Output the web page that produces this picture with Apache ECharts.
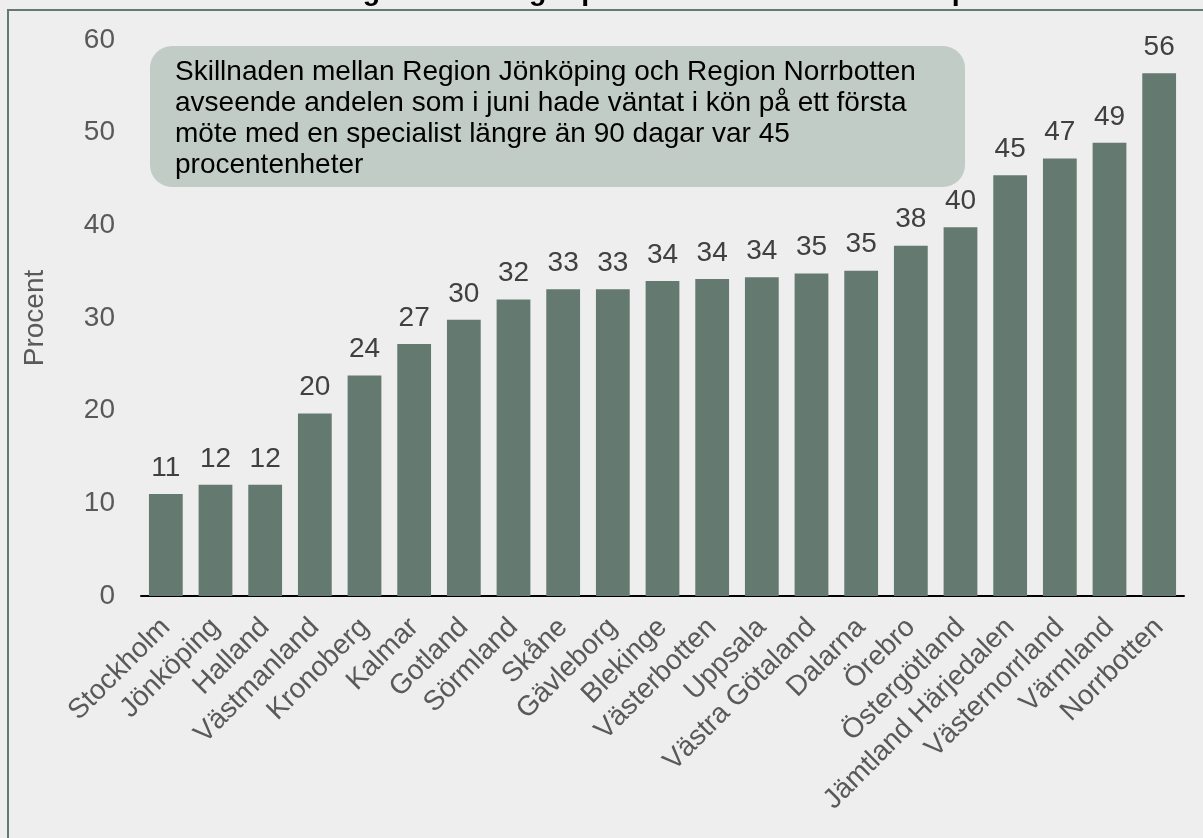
<!DOCTYPE html>
<html>
<head>
<meta charset="utf-8">
<script src="https://cdn.jsdelivr.net/npm/echarts@6/dist/echarts.min.js"></script>
<style>
    html, body { margin: 0; padding: 0; background: #eeeeee; }
    #chart { width: 1203px; height: 838px; }
</style>
</head>
<body>
<div id="chart"></div>
<script>
    // regioner, sorterade efter andel
    let regions = ['Stockholm', 'Jönköping', 'Halland', 'Västmanland', 'Kronoberg', 'Kalmar', 'Gotland',
        'Sörmland', 'Skåne', 'Gävleborg', 'Blekinge', 'Västerbotten', 'Uppsala', 'Västra Götaland',
        'Dalarna', 'Örebro', 'Östergötland', 'Jämtland Härjedalen', 'Västernorrland', 'Värmland', 'Norrbotten']
    // andel (procent) som väntat längre än 90 dagar
    let values = [11.0, 12.0, 12.0, 19.7, 23.8, 27.2, 29.8, 32.0, 33.1, 33.1, 34.0, 34.2, 34.4, 34.8,
        35.1, 37.8, 39.8, 45.4, 47.2, 48.9, 56.4]
    let yTicks = [0, 10, 20, 30, 40, 50, 60]
    // titeln ligger nästan helt ovanför bilden, bara nedstaplarna syns
    let titleText = 'Andel som väntat längre än 90 dagar på ett första möte med en specialist'
    let noteLines = [
        'Skillnaden mellan Region Jönköping och Region Norrbotten',
        'avseende andelen som i juni hade väntat i kön på ett första',
        'möte med en specialist längre än 90 dagar var 45',
        'procentenheter'
    ]

    let chart = document.getElementById('chart')
    let myChart = echarts.init(chart)
    const font = 'Liberation Sans, Arial, sans-serif'
    const option = {
        backgroundColor: '#eeeeee',
        color: ['#647a70'],
        textStyle: { fontFamily: font },
        grid: {
            left: 141,
            right: 19,
            top: 40,
            bottom: 242
        },
        xAxis: {
            type: 'category',
            data: regions,
            axisLine: { lineStyle: { color: '#000', width: 2 } },
            axisTick: { show: false },
            axisLabel: {
                interval: 0,
                rotate: 45,
                fontSize: 28,
                color: '#595959',
                margin: 27
            }
        },
        yAxis: {
            type: 'value',
            min: yTicks[0],
            max: yTicks[yTicks.length - 1],
            interval: 10,
            name: 'Procent',
            nameLocation: 'middle',
            nameGap: 92,
            nameTextStyle: { fontSize: 28, color: '#595959' },
            axisLine: { show: false },
            axisTick: { show: false },
            splitLine: { show: false },
            axisLabel: { fontSize: 28, color: '#595959', margin: 26 }
        },
        series: [{
            name: 'Procent',
            type: 'bar',
            data: values,
            barCategoryGap: '32%',
            label: {
                show: true,
                position: 'top',
                distance: 12,
                fontSize: 28,
                color: '#404040',
                formatter: p => Math.round(p.value)
            }
        }],
        graphic: [
            {
                type: 'text',
                silent: true,
                x: 76,
                y: -22,
                style: {
                    text: titleText,
                    fontSize: 28.5,
                    fontWeight: 'bold',
                    fill: '#000',
                    fontFamily: font
                }
            },
            {
                type: 'rect',
                silent: true,
                shape: { x: 8, y: 10, width: 1300, height: 900 },
                style: { fill: 'none', stroke: '#647a70', lineWidth: 2 }
            },
            {
                type: 'rect',
                silent: true,
                z: 100,
                shape: { x: 150, y: 46, width: 815, height: 141, r: 22 },
                style: { fill: '#c2ccc6' }
            },
            {
                type: 'text',
                silent: true,
                z: 101,
                left: 175,
                top: 57,
                style: {
                    text: noteLines.join('\n'),
                    fontSize: 28,
                    lineHeight: 31,
                    fill: '#000',
                    fontFamily: font
                }
            }
        ]
    }
    myChart.setOption(option)
</script>
</body>
</html>
